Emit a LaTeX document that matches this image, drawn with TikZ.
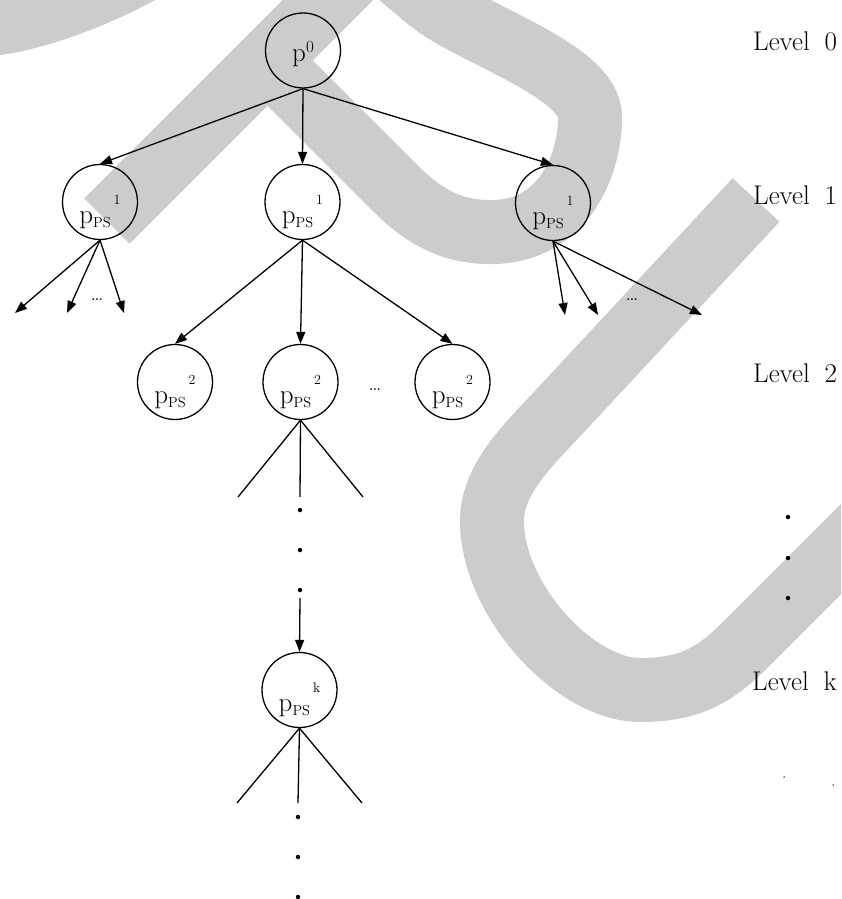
\documentclass[tikz,border=0pt]{standalone}
\usepackage{fontspec}
\usetikzlibrary{arrows.meta}
\definecolor{wmgray}{RGB}{204,204,204}
% p with subscript PS and a raised level index set after it
\newcommand{\pLevel}[1]{{\fontsize{27}{27}\selectfont p}\raisebox{-4.5pt}{\fontsize{14.5}{14.5}\selectfont PS}\hspace{3pt}\raisebox{19pt}{\fontsize{14}{14}\selectfont #1}}
\newcommand{\pRoot}{{\fontsize{27}{27}\selectfont p}\raisebox{9pt}{\fontsize{17}{17}\selectfont 0}}
\begin{document}
\begin{tikzpicture}[x=1pt,y=-1pt,
  pnode/.style={circle,draw,line width=1.3pt,minimum size=75pt,inner sep=0pt},
  ptext/.style={inner sep=0pt},
  edge/.style={line width=1.3pt},
  arr/.style={edge,-{Triangle[length=12pt,width=9pt]}},
  band/.style={wmgray,line width=64pt},
  lvl/.style={anchor=base west,inner sep=0pt,font=\fontsize{27}{27}\selectfont},
  ell/.style={inner sep=0pt,font=\fontsize{22}{22}\selectfont},
  vdot/.style={circle,fill,inner sep=0pt,minimum size=4.5pt},
  speck/.style={circle,fill,inner sep=0pt,minimum size=1.5pt}]

\useasboundingbox (0,0) rectangle (841,899);

% light grey strokes lying behind the tree
\begin{scope}
  \clip (0,0) rectangle (841,899);
  \fill[wmgray] (0,-5) -- (155,-5) -- (155,0) .. controls (100,30) and (40,50) .. (0,55) -- cycle;
  \draw[band] (107,221) -- (360,-32);
  \draw[band] (267,60) -- (395,188) .. controls (430,223) and (460,233) .. (495,232)
    .. controls (560,230) and (590,170) .. (590,117)
    .. controls (590,70) and (470,34) .. (429,0) -- (380,-41);
  \draw[band] (756,200) -- (560,411) .. controls (526,447) and (492,480) .. (492,521)
    .. controls (492,600) and (575,690) .. (640,690)
    .. controls (690,690) and (715,675) .. (745,645) -- (880,510);
\end{scope}

% tree nodes
\node[pnode] (p0) at (303,50.5) {};
\node[ptext] (p0t) at (303,54.5) {\pRoot};

\node[pnode] (a1) at (100,202) {};
\node[ptext] (a1t) at (100,211.5) {\pLevel{1}};
\node[pnode] (b1) at (302.5,202) {};
\node[ptext] (b1t) at (302.5,211.5) {\pLevel{1}};
\node[pnode] (c1) at (553,203) {};
\node[ptext] (c1t) at (553,212.5) {\pLevel{1}};

\node[pnode] (a2) at (175,382) {};
\node[ptext] (a2t) at (175,391.5) {\pLevel{2}};
\node[pnode] (b2) at (300.5,382) {};
\node[ptext] (b2t) at (300.5,391.5) {\pLevel{2}};
\node[pnode] (c2) at (452.5,382) {};
\node[ptext] (c2t) at (452.5,391.5) {\pLevel{2}};

\node[pnode] (k) at (299.5,690) {};
\node[ptext] (kt) at (299.5,699.5) {\pLevel{k}};

% level 0 -> level 1
\draw[arr] (p0.south) -- (a1.north);
\draw[arr] (p0.south) -- (b1.north);
\draw[arr] (p0.south) -- (c1.north);

% open fans below the outer level-1 nodes
\coordinate (la) at (15,313);
\coordinate (lb) at (67,313);
\coordinate (lc) at (124,313);
\draw[arr] (a1.south) -- (la);
\draw[arr] (a1.south) -- (lb);
\draw[arr] (a1.south) -- (lc);
\node[ell] (ldots) at (97,300) {\ldots};

\coordinate (ra) at (565,315);
\coordinate (rb) at (598,315);
\coordinate (rc) at (702,315);
\draw[arr] (c1.south) -- (ra);
\draw[arr] (c1.south) -- (rb);
\draw[arr] (c1.south) -- (rc);
\node[ell] (rdots) at (632,300) {\ldots};

% level 1 -> level 2
\draw[arr] (b1.south) -- (a2.north);
\draw[arr] (b1.south) -- (b2.north);
\draw[arr] (b1.south) -- (c2.north);
\node[ell] (mdots) at (375,390) {\ldots};

% branches below level 2
\coordinate (b2l) at (238,497);
\coordinate (b2m) at (300,497);
\coordinate (b2r) at (363,497);
\draw[edge] (b2.south) -- (b2l);
\draw[edge] (b2.south) -- (b2m);
\draw[edge] (b2.south) -- (b2r);
\node[vdot] (d1) at (300,510) {};
\node[vdot] (d2) at (300,550) {};
\node[vdot] (d3) at (300,590) {};
\coordinate (kin) at (300,598);
\draw[arr] (kin) -- (k.north);

% branches below level k
\coordinate (kl) at (237,803);
\coordinate (km) at (298,803);
\coordinate (kr) at (362,803);
\draw[edge] (k.south) -- (kl);
\draw[edge] (k.south) -- (km);
\draw[edge] (k.south) -- (kr);
\node[vdot] (e1) at (298,817) {};
\node[vdot] (e2) at (298,857) {};
\node[vdot] (e3) at (298,897) {};

% level captions
\node[lvl] (L0) at (753,51) {Level\hspace{0.55em}0};
\node[lvl] (L1) at (753,204) {Level\hspace{0.55em}1};
\node[lvl] (L2) at (753,382) {Level\hspace{0.55em}2};
\node[vdot] (f1) at (788,517) {};
\node[vdot] (f2) at (788,558) {};
\node[vdot] (f3) at (788,598) {};
\node[lvl] (Lk) at (752,690) {Level\hspace{0.55em}k};
\node[speck] (s1) at (784,777) {};
\node[speck] (s2) at (833,785) {};
\end{tikzpicture}
\end{document}
